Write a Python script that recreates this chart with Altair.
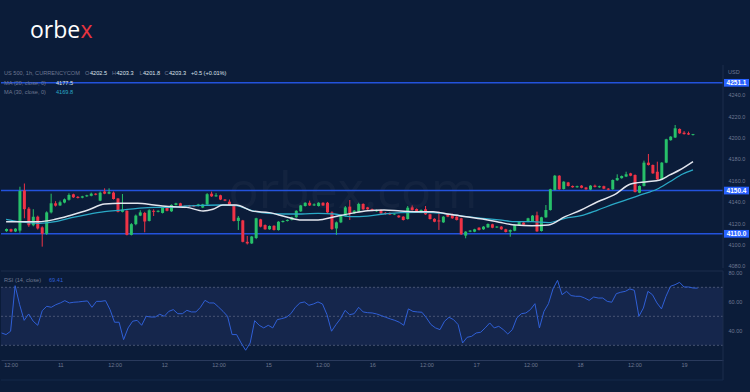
import altair as alt
import pandas as pd

# ---------------- data ----------------
OPEN = [
    4112.5, 4114.3, 4112.2, 4113.0, 4150.5, 4133.5, 4118.0, 4126.0, 4116.0, 4110.0,
    4130.0, 4138.5, 4136.5, 4139.2, 4141.8, 4146.9, 4144.5, 4143.8, 4145.0, 4145.5,
    4147.5, 4141.0, 4149.5, 4147.5, 4148.5, 4143.0, 4130.5, 4131.5, 4109.0, 4119.0,
    4127.0, 4129.5, 4122.0, 4131.5, 4130.5, 4129.5, 4134.5, 4131.0, 4137.0, 4138.5,
    4136.0, 4136.5, 4136.5, 4136.0, 4134.5, 4137.5, 4147.5, 4145.0, 4146.0, 4142.0,
    4140.0, 4137.0, 4122.0, 4122.5, 4102.5, 4101.0, 4106.0, 4123.5, 4118.2, 4114.2,
    4117.5, 4113.5, 4121.0, 4122.0, 4123.0, 4125.5, 4131.0, 4136.0, 4139.0, 4136.5,
    4136.0, 4139.0, 4139.0, 4130.0, 4115.0, 4120.7, 4126.6, 4135.4, 4129.1, 4130.7,
    4137.9, 4134.7, 4133.0, 4131.0, 4132.2, 4129.6, 4129.5, 4128.0, 4127.0, 4126.0,
    4123.8, 4134.7, 4133.2, 4129.8, 4132.9, 4128.2, 4124.0, 4122.5, 4120.7, 4128.5,
    4128.2, 4126.0, 4124.5, 4108.3, 4112.0, 4112.0, 4115.7, 4114.2, 4116.0, 4118.9,
    4115.9, 4116.7, 4114.2, 4112.0, 4112.9, 4118.2, 4120.5, 4121.3, 4121.5, 4127.3,
    4112.6, 4125.4, 4132.2, 4151.0, 4164.3, 4151.9, 4158.0, 4154.7, 4153.5, 4155.0,
    4153.3, 4151.3, 4155.0, 4153.5, 4154.5, 4152.2, 4151.6, 4160.0, 4162.0, 4163.5,
    4166.5, 4165.0, 4148.4, 4154.7, 4176.5, 4174.3, 4168.0, 4160.9, 4176.5, 4197.5,
    4200.0, 4208.0, 4204.5, 4204.0, 4202.5,
]
HIGH = [
    4115.0, 4114.8, 4115.2, 4154.0, 4157.0, 4135.0, 4133.0, 4127.0, 4117.0, 4131.0,
    4147.5, 4140.5, 4141.0, 4143.0, 4147.8, 4147.5, 4145.3, 4145.5, 4146.5, 4148.5,
    4148.0, 4149.5, 4152.5, 4152.5, 4149.5, 4143.5, 4147.2, 4132.0, 4120.0, 4128.0,
    4132.0, 4130.5, 4133.0, 4132.9, 4132.0, 4135.0, 4135.0, 4137.5, 4139.0, 4139.0,
    4136.5, 4137.0, 4137.0, 4138.0, 4138.0, 4148.0, 4149.4, 4148.0, 4146.5, 4142.5,
    4142.0, 4137.5, 4126.6, 4123.0, 4108.0, 4108.0, 4125.0, 4124.0, 4118.8, 4117.8,
    4118.0, 4121.8, 4122.5, 4123.5, 4126.0, 4132.0, 4137.0, 4139.5, 4141.0, 4138.5,
    4139.5, 4139.5, 4139.8, 4131.0, 4121.5, 4127.2, 4136.0, 4141.6, 4132.2, 4139.0,
    4138.5, 4135.2, 4133.6, 4132.6, 4132.8, 4130.2, 4130.0, 4129.2, 4127.6, 4126.5,
    4136.0, 4136.5, 4133.8, 4132.8, 4136.0, 4128.7, 4124.5, 4130.7, 4126.5, 4129.0,
    4128.8, 4126.5, 4125.0, 4112.5, 4113.5, 4114.7, 4116.2, 4117.2, 4119.7, 4119.4,
    4117.2, 4117.2, 4114.7, 4114.0, 4118.7, 4121.5, 4121.0, 4125.0, 4127.5, 4130.7,
    4125.9, 4136.9, 4152.1, 4165.0, 4164.8, 4159.2, 4158.5, 4155.2, 4155.0, 4155.5,
    4153.8, 4155.5, 4156.0, 4155.0, 4155.0, 4152.7, 4160.8, 4165.6, 4164.5, 4168.0,
    4167.0, 4165.5, 4155.2, 4178.4, 4184.6, 4174.8, 4177.4, 4177.0, 4198.8, 4201.3,
    4211.7, 4208.5, 4206.0, 4205.5, 4203.3,
]
LOW = [
    4111.8, 4111.5, 4111.6, 4111.0, 4124.5, 4116.5, 4117.0, 4114.0, 4098.0, 4109.0,
    4129.0, 4135.5, 4136.0, 4138.5, 4141.0, 4143.5, 4143.0, 4143.2, 4144.5, 4145.0,
    4146.0, 4140.5, 4147.0, 4147.0, 4142.0, 4130.0, 4130.0, 4108.5, 4108.5, 4118.0,
    4126.5, 4111.4, 4121.5, 4126.6, 4130.0, 4129.0, 4131.0, 4130.5, 4136.5, 4135.0,
    4134.0, 4135.0, 4135.0, 4135.5, 4134.0, 4137.0, 4144.5, 4144.5, 4141.5, 4140.5,
    4136.5, 4121.5, 4113.6, 4102.0, 4100.0, 4100.5, 4105.0, 4116.0, 4113.8, 4113.8,
    4113.0, 4113.0, 4120.5, 4121.5, 4122.5, 4125.0, 4130.5, 4135.5, 4136.0, 4136.0,
    4135.5, 4136.0, 4129.5, 4113.5, 4109.0, 4120.0, 4126.0, 4122.9, 4128.5, 4130.2,
    4132.4, 4132.4, 4131.1, 4130.6, 4128.6, 4128.0, 4127.5, 4127.5, 4124.9, 4122.4,
    4123.3, 4131.7, 4129.6, 4129.3, 4127.7, 4123.3, 4120.8, 4113.6, 4120.2, 4125.5,
    4124.0, 4122.4, 4109.0, 4105.8, 4111.5, 4111.5, 4113.1, 4113.7, 4115.5, 4115.2,
    4115.4, 4113.7, 4111.2, 4107.3, 4112.4, 4117.7, 4118.0, 4120.8, 4121.0, 4111.8,
    4112.1, 4124.9, 4131.7, 4150.5, 4151.1, 4151.4, 4154.2, 4153.0, 4153.0, 4152.5,
    4151.1, 4150.8, 4153.3, 4153.0, 4151.7, 4150.7, 4151.1, 4159.5, 4161.5, 4163.0,
    4163.8, 4148.6, 4147.9, 4154.2, 4173.8, 4166.0, 4160.4, 4160.4, 4176.0, 4197.0,
    4199.5, 4203.4, 4202.7, 4202.3, 4201.8,
]
CLOSE = [
    4114.5, 4112.2, 4114.8, 4150.0, 4133.0, 4118.0, 4126.0, 4115.0, 4110.0, 4130.0,
    4138.5, 4136.3, 4139.5, 4142.2, 4146.3, 4144.1, 4143.5, 4145.0, 4146.0, 4147.5,
    4146.5, 4148.4, 4147.5, 4149.0, 4142.5, 4130.5, 4132.5, 4109.0, 4119.0, 4127.0,
    4130.0, 4121.5, 4132.0, 4130.5, 4131.5, 4134.5, 4131.5, 4137.0, 4138.5, 4135.5,
    4134.5, 4135.5, 4135.5, 4137.5, 4137.5, 4147.0, 4145.0, 4146.0, 4142.0, 4141.0,
    4137.0, 4122.0, 4125.0, 4102.5, 4101.0, 4107.5, 4124.5, 4116.7, 4114.2, 4117.3,
    4113.6, 4121.3, 4122.0, 4123.0, 4125.5, 4131.5, 4136.5, 4139.0, 4136.5, 4137.5,
    4139.0, 4136.5, 4130.0, 4114.5, 4120.7, 4126.6, 4134.7, 4129.1, 4131.6, 4137.9,
    4132.9, 4132.9, 4131.6, 4132.0, 4129.1, 4128.5, 4128.0, 4128.7, 4125.4, 4122.9,
    4134.4, 4132.2, 4130.1, 4132.2, 4128.2, 4123.8, 4121.3, 4121.5, 4126.0, 4126.0,
    4124.5, 4122.9, 4109.5, 4112.0, 4113.0, 4114.2, 4113.6, 4116.7, 4119.2, 4115.7,
    4116.7, 4114.2, 4111.7, 4113.5, 4118.2, 4121.0, 4118.5, 4124.5, 4127.0, 4112.3,
    4125.4, 4132.2, 4151.6, 4164.3, 4151.6, 4158.7, 4154.7, 4153.5, 4154.5, 4153.0,
    4151.6, 4155.0, 4153.8, 4154.5, 4152.2, 4151.2, 4160.3, 4162.1, 4164.0, 4165.6,
    4164.3, 4149.1, 4154.7, 4176.5, 4174.3, 4166.5, 4160.9, 4176.5, 4198.3, 4200.8,
    4208.6, 4203.9, 4203.2, 4202.8, 4203.3,
]
BAR_INDEX = list(range(-2, 153))

MA20_I = [-2.1, 0.8, 5.2, 8.9, 12.6, 16.3, 20, 23.7, 27.4, 31.1, 34.8, 38.4, 42.1, 44.3,
          46.5, 49.5, 53.2, 56.9, 60.6, 64.2, 67.9, 71.6, 75.3, 79, 82.7, 86.4, 90.1,
          93.7, 97.4, 101.1, 104.8, 108.5, 112.2, 115.9, 119.6, 123.3, 126.9, 130.6,
          134.3, 138, 141.7, 144.6, 146.8, 149, 152]
MA20_V = [4121.3, 4121.3, 4121.3, 4123.5, 4127.6, 4132.2, 4137.9, 4138.5, 4138.5, 4136.9,
          4135.4, 4134.7, 4131.3, 4132.9, 4136.9, 4136.9, 4131.2, 4129.8, 4126.0, 4122.9,
          4122.9, 4126.0, 4129.1, 4131.6, 4132.2, 4131.3, 4130.7, 4130.7, 4128.2, 4126.0,
          4123.8, 4120.8, 4118.2, 4117.6, 4118.2, 4126.0, 4132.2, 4140.0, 4146.3, 4156.5,
          4158.7, 4160.3, 4165.0, 4169.6, 4177.5]
MA30_I = [-2.1, 0.8, 5.2, 8.9, 12.6, 16.3, 20, 23.7, 27.4, 31.1, 34.8, 38.4, 42.1, 45.8,
          49.5, 53.2, 56.9, 60.6, 64.2, 67.9, 71.6, 75.3, 79, 82.7, 86.4, 90.1, 93.7,
          97.4, 101.1, 104.8, 108.5, 112.2, 115.9, 119.6, 123.3, 126.9, 130.6, 134.3,
          138, 140.2, 143.9, 146.8, 149.7, 152]
MA30_V = [4123.5, 4121.3, 4119.8, 4121.3, 4125.1, 4128.2, 4130.7, 4132.2, 4133.8, 4134.7,
          4134.7, 4136.0, 4136.6, 4136.9, 4136.3, 4131.5, 4129.1, 4128.5, 4128.5, 4129.1,
          4128.5, 4126.0, 4126.6, 4128.5, 4129.8, 4130.1, 4129.8, 4128.2, 4126.0, 4124.5,
          4123.0, 4121.3, 4121.3, 4120.4, 4124.5, 4127.0, 4132.2, 4137.9, 4143.1, 4146.3,
          4151.6, 4158.7, 4165.9, 4169.8]

RSI = [
    38.5, 37.4, 39.7, 71.1, 58.0, 47.2, 51.6, 46.6, 43.8, 53.9,
    56.9, 56.2, 58.0, 59.2, 60.8, 59.2, 59.7, 59.9, 60.3, 60.6,
    56.2, 60.3, 60.3, 60.8, 54.6, 45.9, 45.9, 33.9, 42.0, 46.6,
    47.2, 43.8, 50.0, 49.5, 49.5, 51.4, 50.0, 53.4, 54.6, 51.8,
    51.8, 54.1, 53.0, 53.0, 56.2, 61.0, 59.2, 59.2, 56.4, 53.4,
    50.0, 37.4, 37.4, 31.6, 26.6, 31.6, 47.0, 43.8, 42.0, 43.8,
    42.0, 47.7, 48.4, 49.3, 51.8, 56.2, 59.2, 59.9, 57.6, 58.5,
    59.9, 58.5, 51.1, 39.7, 44.3, 48.4, 54.1, 51.1, 51.8, 56.2,
    53.0, 52.5, 52.3, 51.6, 50.5, 49.3, 48.2, 47.2, 45.9, 43.8,
    55.1, 53.4, 53.0, 52.8, 48.9, 44.3, 42.0, 40.8, 46.6, 49.3,
    47.7, 44.3, 31.6, 35.5, 36.2, 38.5, 39.0, 42.0, 45.4, 42.0,
    43.1, 40.8, 37.8, 40.8, 48.9, 51.8, 52.3, 54.6, 58.7, 42.0,
    53.4, 58.7, 68.9, 74.8, 64.9, 67.2, 64.3, 63.8, 63.8, 62.6,
    61.0, 63.3, 62.6, 62.6, 60.3, 59.7, 65.6, 66.6, 67.2, 68.9,
    67.9, 50.0, 55.7, 67.2, 64.9, 59.2, 55.1, 63.8, 70.7, 71.8,
    73.4, 70.2, 70.2, 69.5, 69.41,
]

LEVELS = [4251.1, 4150.4, 4110.0]
PRICE_TICKS = [4080, 4100, 4120, 4140, 4160, 4180, 4200, 4220, 4240]
RSI_TICKS = [40, 60, 80]
RSI_GUIDES = [70, 50, 30]
TICK_IDX = [0, 11, 23, 34, 46, 57, 69, 80, 92, 103, 115, 126, 138, 149]
TICK_TXT = ["12:00", "11", "12:00", "12", "12:00", "15", "12:00", "16",
            "12:00", "17", "12:00", "18", "12:00", "19"]

assert len(OPEN) == len(HIGH) == len(LOW) == len(CLOSE) == len(BAR_INDEX) == len(RSI)

# ---------------- style ----------------
BG = "#0b1c39"
BAND = "#15264c"
GREEN = "#27c06a"
RED = "#ef3346"
BLUE_LINE = "#2352dc"
BOX = "#2962ff"
RSI_COL = "#2f5fd6"
MA20_COL = "#e3e6ee"
MA30_COL = "#2aa9c6"
GREY = "#6d7891"
WHITE = "#dfe3ec"
SEP = "#1d2d4d"
FONT = "Liberation Sans"
LEG = 5.6

W = 722
H_TOP = 268
H_RSI = 89

xs = alt.Scale(domain=[-2.124, 157.61], nice=False, zero=False)
ps = alt.Scale(domain=[4078.04, 4328.5], nice=False, zero=False)
rs = alt.Scale(domain=[19.86, 81.24], nice=False, zero=False)

p_axis = alt.Axis(orient="right", values=PRICE_TICKS, format=".1f", title=None,
                  ticks=False, domain=False, grid=False, labelColor=GREY,
                  labelFontSize=5.5, labelFont=FONT, labelPadding=5,
                  labelFlush=False, labelOverlap=False)
r_axis = alt.Axis(orient="right", values=RSI_TICKS, format=".2f", title=None,
                  ticks=False, domain=False, grid=False, labelColor=GREY,
                  labelFontSize=5.5, labelFont=FONT, labelPadding=5,
                  labelFlush=False, labelOverlap=False)
lbl_expr = "[" + ",".join("'%s'" % t for t in TICK_TXT) + "][indexof([" + \
    ",".join(str(v) for v in TICK_IDX) + "], datum.value)]"
t_axis = alt.Axis(values=TICK_IDX, labelExpr=lbl_expr, title=None, ticks=False,
                  domain=True, domainColor="#2a3a5c", grid=False, labelColor=GREY,
                  labelFontSize=5.5, labelFont=FONT, labelPadding=2,
                  labelFlush=False, labelOverlap=False)


def Xp(f):
    return alt.X(f, type="quantitative", scale=xs, axis=None)


def Yp(f):
    return alt.Y(f, type="quantitative", scale=ps, axis=p_axis)


def Xr(f):
    return alt.X(f, type="quantitative", scale=xs, axis=t_axis)


def Yr(f):
    return alt.Y(f, type="quantitative", scale=rs, axis=r_axis)


ONE = pd.DataFrame({"k": [0]})


def txt(s, x, y, color=GREY, size=LEG, align="left", weight="normal", font=FONT, opacity=1.0):
    return alt.Chart(pd.DataFrame({"t": [s]})).mark_text(
        align=align, baseline="middle", color=color, fontSize=size,
        fontWeight=weight, font=font, opacity=opacity
    ).encode(text="t:N", x=alt.value(x), y=alt.value(y))


def prule(color, x, x2, y, y2, width=1.0):
    return alt.Chart(ONE).mark_rule(color=color, strokeWidth=width).encode(
        x=alt.value(x), x2=alt.value(x2), y=alt.value(y), y2=alt.value(y2))


# ---------------- price pane ----------------
candles = pd.DataFrame({"i": BAR_INDEX, "open": OPEN, "high": HIGH,
                        "low": LOW, "close": CLOSE})
dir_scale = alt.Scale(domain=["up", "down"], range=[GREEN, RED])
cbase = alt.Chart(candles).transform_calculate(
    dir="datum.close >= datum.open ? 'up' : 'down'")
wicks = cbase.mark_rule(strokeWidth=1, clip=True).encode(
    x=Xp("i"), y=Yp("low"), y2=alt.Y2("high"),
    color=alt.Color("dir:N", scale=dir_scale, legend=None))
bodies = cbase.mark_bar(size=3, clip=True).encode(
    x=Xp("i"), y=Yp("open"), y2=alt.Y2("close"),
    color=alt.Color("dir:N", scale=dir_scale, legend=None))

ma20 = alt.Chart(pd.DataFrame({"i": MA20_I, "v": MA20_V})).mark_line(
    color=MA20_COL, strokeWidth=1.5, interpolate="monotone", clip=True
).encode(x=Xp("i"), y=Yp("v"))
ma30 = alt.Chart(pd.DataFrame({"i": MA30_I, "v": MA30_V})).mark_line(
    color=MA30_COL, strokeWidth=1.3, interpolate="monotone", clip=True
).encode(x=Xp("i"), y=Yp("v"))

lv = pd.DataFrame({"level": LEVELS, "txt": ["%.1f" % v for v in LEVELS]})
level_lines = alt.Chart(lv).mark_rule(color=BLUE_LINE, strokeWidth=1.5).encode(
    x=alt.value(0), x2=alt.value(W), y=Yp("level"))
boxes = alt.Chart(lv).transform_calculate(
    top="datum.level + 3.6", bot="datum.level - 3.6"
).mark_rect(color=BOX).encode(
    x=alt.value(723), x2=alt.value(748), y=Yp("top"), y2=alt.Y2("bot"))
box_txt = alt.Chart(lv).mark_text(
    color="#ffffff", fontSize=6.5, fontWeight="bold", font=FONT,
    align="center", baseline="middle"
).encode(x=alt.value(735.5), y=Yp("level"), text="txt:N")

watermark = txt("orbex.com", 352, 193, color="#ffffff", size=50, align="center",
                font="Open Sans", opacity=0.03)

header = [
    txt("orbe", 29, 31, color="#ffffff", size=23, font="Open Sans"),
    txt("x", 79.5, 31, color="#e8343f", size=23, font="Open Sans"),
    txt("US 500, 1h, CURRENCYCOM", 3, 73),
    txt("O", 84, 73), txt("4202.5", 89, 73, color=WHITE),
    txt("H", 111, 73), txt("4203.3", 115.5, 73, color=WHITE),
    txt("L", 138.5, 73), txt("4201.8", 142, 73, color=WHITE),
    txt("C", 163.5, 73), txt("4203.3", 168, 73, color=WHITE),
    txt("+0.5 (+0.01%)", 190, 73, color=WHITE),
    txt("MA (20, close, 0)", 3, 82.5), txt("4177.5", 55, 82.5, color=WHITE),
    txt("MA (30, close, 0)", 3, 92), txt("4169.8", 55, 92, color=MA30_COL),
    txt("USD", 727, 72, size=5.5),
]

top = alt.layer(
    watermark,
    level_lines,
    wicks, bodies,
    ma30, ma20,
    boxes, box_txt,
    prule(SEP, W, W, 65, H_TOP),
    *header,
).properties(width=W, height=H_TOP)

# ---------------- RSI pane ----------------
band = alt.Chart(pd.DataFrame({"hi": [70], "lo": [30]})).mark_rect(color=BAND).encode(
    x=alt.value(0), x2=alt.value(W), y=Yr("hi"), y2=alt.Y2("lo"))
guides = alt.Chart(pd.DataFrame({"g": RSI_GUIDES})).mark_rule(
    color="#56617d", strokeWidth=0.8, strokeDash=[2, 2]
).encode(x=alt.value(0), x2=alt.value(W), y=Yr("g"))
rsi_line = alt.Chart(pd.DataFrame({"i": BAR_INDEX, "r": RSI})).mark_line(
    color=RSI_COL, strokeWidth=1.0, clip=True
).encode(x=Xr("i"), y=Yr("r"))

bottom = alt.layer(
    band, guides, rsi_line,
    prule(SEP, 0, W, 0, 0),
    prule(SEP, W, W, 0, H_RSI + 20),
    prule("#15284a", 0, W, H_RSI + 20, H_RSI + 20),
    txt("RSI (14, close)", 3, 9),
    txt("69.41", 48, 9, color=RSI_COL),
).properties(width=W, height=H_RSI)

chart = alt.vconcat(top, bottom, spacing=0).resolve_scale(
    x="independent", y="independent", color="independent"
).properties(padding=0).configure(background=BG).configure_view(strokeWidth=0)

PAGE = None
try:
    import jinja2
    PAGE = jinja2.Template(
        """<!DOCTYPE html>
<html>
<head>
<meta charset="utf-8">
<style>
html, body { margin: 0; padding: 0; background: """ + BG + """; overflow: hidden; }
</style>
<script type="text/javascript" src="{{ base_url }}/vega@{{ vega_version }}"></script>
<script type="text/javascript" src="{{ base_url }}/vega-lite@{{ vegalite_version }}"></script>
<script type="text/javascript" src="{{ base_url }}/vega-embed@{{ vegaembed_version }}"></script>
</head>
<body>
<div id="{{ output_div }}"></div>
<script type="text/javascript">
(function(vegaEmbed) {
  var spec = {{ spec }};
  var embedOpt = {{ embed_options }};
  var el = document.getElementById('{{ output_div }}');
  vegaEmbed("#{{ output_div }}", spec, embedOpt).catch(function(error) {
    el.innerHTML = '<div style="color:red;">' + error.message + '</div>';
  });
})(vegaEmbed);
</script>
</body>
</html>
""")
except Exception:
    PAGE = None

saved = False
if PAGE is not None:
    try:
        chart.save("out.html", embed_options={"renderer": "svg", "actions": False},
                   template=PAGE)
        saved = "vega-embed" in open("out.html", encoding="utf-8").read()
    except Exception:
        saved = False
if not saved:
    chart.save("out.html", embed_options={"renderer": "svg", "actions": False})
